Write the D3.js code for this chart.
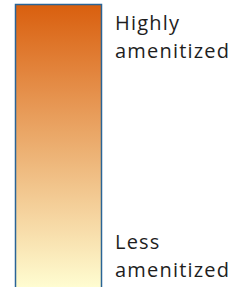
<!DOCTYPE html>
<html>
<head>
<meta charset="utf-8">
<script src="https://cdn.jsdelivr.net/npm/d3@7"></script>
<style>
  body { margin: 0; background: #fff; }
  text { font-family: "Open Sans", Roboto, sans-serif; fill: #1e1e1e; }
</style>
</head>
<body>
<div id="legend"></div>
<script>
// legend data
let topLabel = ["Highly", "amenitized"];
let bottomLabel = ["Less", "amenitized"];
let colorEnds = ["#ffffd4", "#d95f0e"]; // low -> high
let stopOffsets = [0, 0.25, 0.5, 0.75, 1];

let width = 241, height = 287;

let svg = d3.select('#legend').append('svg')
    .attr('width', width)
    .attr('height', height);

let color = d3.scaleLinear().domain([0, 1]).range(colorEnds);

// vertical position of the bar, value 1 at top
let y = d3.scaleLinear().domain([1, 0]).range([4.5, 292]);

let grad = svg.append('defs').append('linearGradient')
    .attr('id', 'amen')
    .attr('x1', 0).attr('y1', 0)
    .attr('x2', 0).attr('y2', 1);

// stops must go top -> bottom in increasing offset
grad.selectAll('stop')
    .data(stopOffsets.slice().reverse())
    .enter().append('stop')
    .attr('offset', d => (1 - d) * 100 + '%')
    .attr('stop-color', d => color(d));

svg.append('rect')
    .attr('x', 15.5)
    .attr('y', y(1))
    .attr('width', 86)
    .attr('height', y(0) - y(1))
    .attr('fill', 'url(#amen)')
    .attr('stroke', '#2a6496')
    .attr('stroke-width', 1.5);

function label(lines, baseline) {
  let t = svg.append('text')
      .attr('x', 115)
      .attr('y', baseline)
      .style('font-size', '20px')
      .style('letter-spacing', '1.2px');
  t.selectAll('tspan')
    .data(lines)
    .enter().append('tspan')
    .attr('x', 115)
    .attr('dy', (d, i) => i ? 28 : 0)
    .text(d => d);
}

label(topLabel, 29.5);
label(bottomLabel, 248.5);
</script>
</body>
</html>
